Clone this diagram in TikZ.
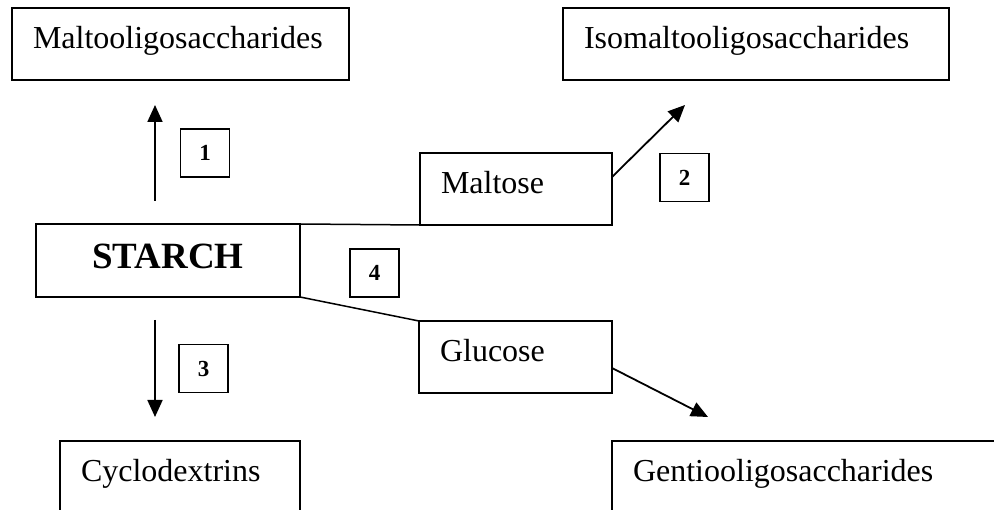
\documentclass[tikz,border=0pt]{standalone}
\usepackage{fontspec}
\setmainfont{Liberation Serif}
\usepackage{tikz}
\usetikzlibrary{arrows.meta,positioning}
\newcommand{\lf}{\fontsize{32}{36}\selectfont}
\newcommand{\bigf}{\fontsize{37}{42}\selectfont\bfseries}
\newcommand{\numf}{\fontsize{23}{26}\selectfont\bfseries}

\begin{document}
\begin{tikzpicture}[x=1pt, y=-1pt, line width=1.5pt,
  every node/.style={inner sep=0pt, outer sep=0pt},
  sugar/.style={draw, anchor=north west, font=\lf, align=left, inner xsep=21pt,
    text height=41pt, text depth=31pt},
  stepno/.style={draw, minimum width=49pt, minimum height=48pt, font=\numf},
  conv/.style={line width=1.8pt, -{Triangle[length=17pt, width=15pt]}}]
\useasboundingbox (0,0) rectangle (994,510);
\clip (0,0) rectangle (994,510);
% ---- substrate
\node[draw, minimum width=264pt, minimum height=73pt, font=\bigf, text depth=8pt] (starch) at (168,260.5) {STARCH};
% ---- products
\node[sugar, text width=295pt] (malto) at (12,8) {Maltooligosaccharides};
\node[sugar, text width=344pt] (isomalto) at (563,8) {Isomaltooligosaccharides};
\node[sugar, text width=150pt] (maltose) at (420,153) {Maltose};
\node[sugar, text width=151pt] (glucose) at (419,321) {Glucose};
\node[sugar, text width=198pt] (cyclo) at (60,441) {Cyclodextrins};
\node[sugar, text width=360pt] (gentio) at (612,441) {Gentiooligosaccharides};
% ---- enzyme numbers
\node[stepno] (n1) at (205,153) {1};
\node[stepno] (n2) at (684.5,177.5) {2};
\node[stepno] (n3) at (203.5,368.5) {3};
\node[stepno] (n4) at (374.5,273) {4};
% ---- arrow ends
\coordinate (up1) at (155,201);
\coordinate (up2) at (155,105);
\coordinate (dn1) at (155,320);
\coordinate (dn2) at (155,417);
\coordinate (mo) at (612,177);
\coordinate (io) at (685,105);
\coordinate (go) at (612,368);
\coordinate (ge) at (708,417);
% ---- connectors
\draw (starch.north east) -- (maltose.south west);
\draw (starch.south east) -- (glucose.north west);
\draw[conv] (up1) -- (up2);
\draw[conv] (dn1) -- (dn2);
\draw[conv] (mo) -- (io);
\draw[conv] (go) -- (ge);
\end{tikzpicture}
\end{document}
